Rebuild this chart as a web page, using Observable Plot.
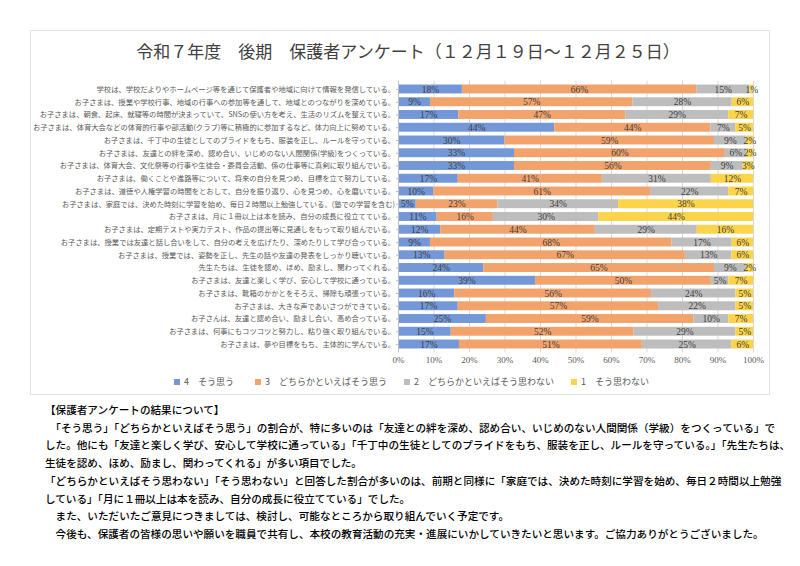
<!DOCTYPE html>
<html><head><meta charset="utf-8">
<script src="https://cdn.jsdelivr.net/npm/d3@7"></script>
<script src="https://cdn.jsdelivr.net/npm/@observablehq/plot@0.6"></script>
<style>
html,body{margin:0;padding:0;background:#fff;}
#page{position:relative;width:800px;height:566px;overflow:hidden;font-family:"Noto Sans CJK JP",sans-serif;}
#box{position:absolute;left:30px;top:30px;width:740px;height:365px;border:1px solid #e3e3e3;box-sizing:border-box;}
#title{position:absolute;left:0;width:816px;top:38px;text-align:center;font-size:17px;color:#404040;font-weight:400;}
#chart{position:absolute;left:0;top:0;}
#legend{position:absolute;top:375px;left:0;width:800px;height:16px;font-size:9px;color:#595959;}
.li{position:absolute;top:0;white-space:nowrap;line-height:14px;}
.sw{display:inline-block;width:6px;height:6px;margin-right:4px;vertical-align:middle;position:relative;top:-1px;}
#text{position:absolute;left:45px;top:401px;font-size:10.6px;line-height:17.7px;color:#000;font-weight:500;}
#text div{white-space:nowrap;}
</style></head>
<body><div id="page">
<div id="box"></div>
<div id="title">令和７年度　後期　保護者アンケート（１２月１９日～１２月２５日）</div>
<div id="chart"></div>
<div id="legend"></div>
<div id="text">
<div>【保護者アンケートの結果について】</div>
<div>　「そう思う」「どちらかといえばそう思う」の割合が、特に多いのは「友達との絆を深め、認め合い、いじめのない人間関係（学級）をつくっている」で</div>
<div>した。他にも「友達と楽しく学び、安心して学校に通っている」「千丁中の生徒としてのプライドをもち、服装を正し、ルールを守っている。」「先生たちは、</div>
<div>生徒を認め、ほめ、励まし、関わってくれる」が多い項目でした。</div>
<div>「どちらかといえばそう思わない」「そう思わない」と回答した割合が多いのは、前期と同様に「家庭では、決めた時刻に学習を始め、毎日２時間以上勉強</div>
<div>している」「月に１冊以上は本を読み、自分の成長に役立てている」でした。</div>
<div>　また、いただいたご意見につきましては、検討し、可能なところから取り組んでいく予定です。</div>
<div>　今後も、保護者の皆様の思いや願いを職員で共有し、本校の教育活動の充実・進展にいかしていきたいと思います。ご協力ありがとうございました。</div>
</div>
</div>
<script>
const categories = [
  "学校は、学校だよりやホームページ等を通じて保護者や地域に向けて情報を発信している。",
  "お子さまは、授業や学校行事、地域の行事への参加等を通して、地域とのつながりを深めている。",
  "お子さまは、朝食、起床、就寝等の時間が決まっていて、SNSの使い方を考え、生活のリズムを整えている。",
  "お子さまは、体育大会などの体育的行事や部活動(クラブ)等に積極的に参加するなど、体力向上に努めている。",
  "お子さまは、千丁中の生徒としてのプライドをもち、服装を正し、ルールを守っている。",
  "お子さまは、友達との絆を深め、認め合い、いじめのない人間関係(学級)をつくっている。",
  "お子さまは、体育大会、文化祭等の行事や生徒会・委員会活動、係の仕事等に真剣に取り組んでいる。",
  "お子さまは、働くことや進路等について、将来の自分を見つめ、目標を立て努力している。",
  "お子さまは、道徳や人権学習の時間をとおして、自分を振り返り、心を見つめ、心を磨いている。",
  "お子さまは、家庭では、決めた時刻に学習を始め、毎日２時間以上勉強している。(塾での学習を含む)",
  "お子さまは、月に１冊以上は本を読み、自分の成長に役立てている。",
  "お子さまは、定期テストや実力テスト、作品の提出等に見通しをもって取り組んでいる。",
  "お子さまは、授業では友達と話し合いをして、自分の考えを広げたり、深めたりして学び合っている。",
  "お子さまは、授業では、姿勢を正し、先生の話や友達の発表をしっかり聴いている。",
  "先生たちは、生徒を認め、ほめ、励まし、関わってくれる。",
  "お子さまは、友達と楽しく学び、安心して学校に通っている。",
  "お子さまは、靴箱のかかとをそろえ、掃除も頑張っている。",
  "お子さまは、大きな声であいさつができている。",
  "お子さんは、友達と認め合い、励まし合い、高め合っている。",
  "お子さまは、何事にもコツコツと努力し、粘り強く取り組んでいる。",
  "お子さまは、夢や目標をもち、主体的に学んでいる。"
];
const s4 = [18, 9,17,44,30,33,33,17,10, 5,11,12, 9,13,24,39,16,17,25,15,17];
const s3 = [66,57,47,44,59,60,56,41,61,23,16,44,68,67,65,50,56,57,59,52,51];
const s2 = [15,28,29, 7, 9, 6, 9,31,22,34,30,29,17,13, 9, 5,24,22,10,29,25];
const s1 = [ 1, 6, 7, 5, 2, 2, 3,12, 7,38,44,16, 6, 6, 2, 7, 5, 5, 7, 5, 6];
const seriesNames = ["4　そう思う","3　どちらかといえばそう思う","2　どちらかといえばそう思わない","1　そう思わない"];
const seriesColors = ["#7397d7","#f2a36c","#bdbdbd","#fcd44a"];
const xTickValues = [0,10,20,30,40,50,60,70,80,90,100];
const legendX = [174,255,404,571];

const seriesValues = [s4,s3,s2,s1];
const rows = [];
categories.forEach((c,i)=>{
  seriesValues.forEach((arr,k)=>{
    rows.push({cat:c, series:seriesNames[k], value:arr[i]});
  });
});
const ticks = xTickValues.map(d=>d/100);

const chart = Plot.plot({
  width: 800,
  height: 372,
  marginLeft: 398,
  marginRight: 47,
  marginTop: 80.7,
  marginBottom: 19.7,
  style: {background:"transparent", color:"#595959"},
  x: {domain:[0,1]},
  y: {domain: categories, padding: 0.3, round: false},
  color: {domain: seriesNames, range: seriesColors},
  marks: [
    Plot.gridX(ticks, {stroke:"#d9d9d9", strokeOpacity:1}),
    Plot.barX(rows, Plot.stackX({x:"value", y:"cat", fill:"series", offset:"normalize"})),
    Plot.text(rows, Plot.stackX({x:"value", y:"cat", z:"series", offset:"normalize",
      text: d=>d.value+"%", fill:"#404040", fontSize:9.5, fontFamily:"Liberation Serif"})),
    Plot.ruleX([0], {stroke:"#bfbfbf"}),
    Plot.axisX({ticks, tickFormat: d=>Math.round(d*100)+"%", tickSize:0, tickPadding:4,
      fontSize:9, fontFamily:"Liberation Serif", label:null}),
    Plot.axisY({tickSize:2, tickPadding:1.5, fontSize:7.3, fontFamily:"Noto Sans CJK JP", label:null, stroke:"#bfbfbf"})
  ]
});
document.getElementById("chart").appendChild(chart);

const leg = document.getElementById("legend");
seriesNames.forEach((n,k)=>{
  const d = document.createElement("div");
  d.className="li";
  d.style.left = legendX[k]+"px";
  d.innerHTML = `<span class="sw" style="background:${seriesColors[k]}"></span>${n}`;
  leg.appendChild(d);
});
</script>
</body></html>
